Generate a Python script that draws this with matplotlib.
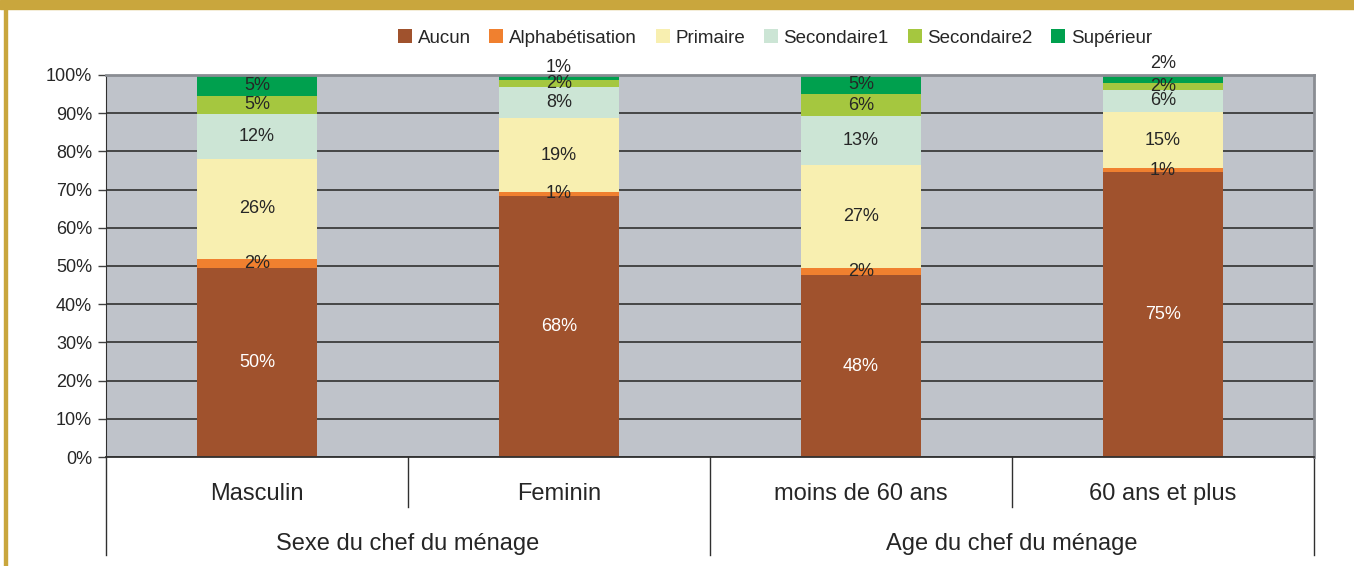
import matplotlib
matplotlib.use("Agg")
import matplotlib.pyplot as plt
from matplotlib import font_manager
from matplotlib.patches import Rectangle

# data (percent of households by education level of head)
categories = ["Masculin", "Feminin", "moins de 60 ans", "60 ans et plus"]
groups = ["Sexe du chef du ménage", "Age du chef du ménage"]
levels = ["Aucun", "Alphabétisation", "Primaire", "Secondaire1", "Secondaire2", "Supérieur"]
aucun = [49.6, 68.4, 47.6, 74.6]
alpha = [2.3, 0.9, 2.0, 1.0]
primaire = [26.1, 19.4, 26.8, 14.6]
sec1 = [11.8, 8.1, 12.8, 6.0]
sec2 = [4.8, 1.9, 5.8, 1.8]
sup = [5.4, 1.3, 5.0, 2.0]
yticks = list(range(0, 101, 10))

colors = ["#a0522d", "#f0802f", "#f8efb0", "#cce5d5", "#a5c73f", "#00a04e"]
txt_colors = ["white", "#262626", "#262626", "#262626", "#262626", "#262626"]

names = {f.name for f in font_manager.fontManager.ttflist}
fam = "Liberation Sans Narrow" if "Liberation Sans Narrow" in names else "Liberation Sans"
plt.rcParams["font.family"] = [fam, "DejaVu Sans"]

fig = plt.figure(figsize=(13.54, 5.66), dpi=100)
# gold frame pieces
fig.patches.append(Rectangle((0, 1 - 9 / 566), 1, 9 / 566, transform=fig.transFigure,
                             color="#c9a63d", zorder=0))
fig.patches.append(Rectangle((4 / 1354, 0), 3 / 1354, 1, transform=fig.transFigure,
                             color="#c9a63d", zorder=0))

ax = fig.add_axes([106 / 1354, 1 - 457 / 566, 1208 / 1354, 382 / 566])
ax.set_facecolor("#bfc3ca")
ax.set_axisbelow(True)

series = [aucun, alpha, primaire, sec1, sec2, sup]
x = list(range(len(categories)))
bottom = [0.0] * len(categories)
for k, vals in enumerate(series):
    ax.bar(x, vals, 0.4, bottom=bottom, color=colors[k], label=levels[k], zorder=2)
    for i, v in enumerate(vals):
        yc = bottom[i] + v / 2
        if k == len(series) - 1 and v < 3:
            yc = 100 + v * 1.5  # small top values pushed above the bar
        ax.text(x[i], yc, f"{round(v):.0f}%", ha="center", va="center",
                fontsize=13, color=txt_colors[k], zorder=3, clip_on=False)
    bottom = [b + v for b, v in zip(bottom, vals)]

ax.set_xlim(-0.5, 3.5)
ax.set_ylim(0, 100)
ax.set_yticks(yticks)
ax.set_yticklabels([f"{t}%" for t in yticks], fontsize=13, color="#262626")
ax.yaxis.grid(True, color="#3c3c3c", linewidth=1.3)
ax.set_xticks([])
ax.tick_params(axis="y", length=6, width=1, color="#404040", pad=4)
for s in ["top", "right"]:
    ax.spines[s].set_color("#8a8d93")
    ax.spines[s].set_linewidth(2)
ax.spines["left"].set_color("#303030")
ax.spines["bottom"].set_color("#303030")
ax.spines["bottom"].set_linewidth(1.3)

# multi-level category axis
tr = ax.get_xaxis_transform()
for xb in [-0.5, 1.5, 3.5]:
    ax.plot([xb, xb], [0, -0.257], transform=tr, color="#303030", lw=1, clip_on=False)
for xb in [0.5, 2.5]:
    ax.plot([xb, xb], [0, -0.131], transform=tr, color="#303030", lw=1, clip_on=False)
for i, c in enumerate(categories):
    ax.text(i, -0.097, c, transform=tr, ha="center", va="center", fontsize=17, color="#262626")
for g, name in enumerate(groups):
    ax.text(0.5 + 2 * g, -0.228, name, transform=tr, ha="center", va="center",
            fontsize=17, color="#262626")

fig.legend(loc="center", bbox_to_anchor=(775 / 1354, 1 - 38 / 566), ncol=6, frameon=False,
           fontsize=13.5, handlelength=0.75, handleheight=0.75, handletextpad=0.3,
           columnspacing=1.0, labelcolor="#262626")

fig.savefig("out.png", dpi=100)
